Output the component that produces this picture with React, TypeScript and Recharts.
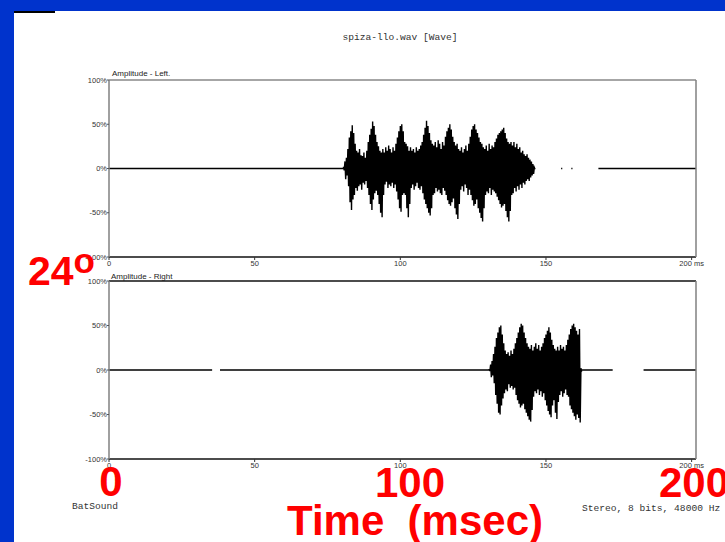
import React from 'react';
import { ComposedChart, Line, XAxis, YAxis, ReferenceLine } from 'recharts';

const timeTicks = [0, 50, 100, 150, 200];
const amplitudeTicks = [-100, -50, 0, 50, 100];
const binMs = 0.5;

// Left channel (top panel), envelope per 0.5 ms bin, in %
const leftBurstStart = 80.5;
const leftMax = [
  2, 8, 12, 22, 35, 42, 49, 40, 28, 20,
  18, 22, 15, 14, 18, 12, 20, 30, 38, 45,
  53, 48, 38, 30, 25, 20, 18, 22, 18, 24,
  20, 26, 22, 18, 24, 20, 28, 35, 42, 48,
  50, 42, 30, 28, 25, 20, 24, 20, 22, 18,
  24, 20, 22, 26, 30, 38, 46, 54, 48, 40,
  32, 28, 26, 30, 24, 32, 28, 22, 30, 26,
  36, 42, 46, 50, 44, 36, 30, 26, 28, 22,
  20, 24, 18, 22, 26, 20, 28, 36, 44, 48,
  50, 44, 40, 35, 30, 28, 24, 22, 26, 20,
  28, 22, 26, 24, 30, 34, 38, 40, 42, 44,
  46, 40, 34, 30, 28, 30, 26, 30, 24, 28,
  22, 24, 18, 20, 16, 14, 16, 12, 10, 8,
  5, 1,
];
const leftMin = [
  -2, -12, -8, -20, -38, -47, -35, -30, -22, -25,
  -20, -18, -24, -16, -18, -14, -22, -30, -40, -47,
  -35, -28, -25, -30, -40, -50, -55, -30, -18, -15,
  -22, -18, -20, -16, -22, -18, -26, -35, -45, -49,
  -30, -28, -30, -45, -55, -40, -22, -18, -24, -20,
  -16, -22, -24, -20, -28, -35, -40, -45, -50, -53,
  -45, -30, -28, -22, -26, -24, -28, -30, -22, -25,
  -30, -36, -40, -42, -38, -34, -45, -52, -57, -40,
  -24, -20, -26, -18, -22, -30, -24, -30, -36, -42,
  -40, -35, -45, -50, -56, -60, -45, -30, -26, -28,
  -22, -30, -24, -26, -28, -32, -36, -40, -44, -42,
  -40, -48, -55, -60, -48, -30, -28, -22, -26, -20,
  -24, -18, -22, -16, -18, -14, -12, -14, -10, -8,
  -6, -1,
];
const leftQuietBefore: number[][] = [[0, 80.5]];
const leftQuietAfter: number[][] = [[155.2, 155.6], [158.7, 159.1], [168, 201.5]];

// Right channel (bottom panel)
const rightBurstStart = 130.5;
const rightMax = [
  1, 6, 10, 18, 26, 36, 42, 48, 50, 40,
  30, 22, 18, 20, 16, 22, 18, 24, 30, 36,
  42, 48, 52, 50, 42, 36, 30, 26, 24, 28,
  22, 26, 30, 24, 28, 22, 26, 30, 36, 40,
  44, 48, 42, 34, 28, 24, 22, 26, 22, 28,
  24, 26, 22, 28, 34, 40, 46, 50, 52, 48,
  44, 40, 46, 2,
];
const rightMin = [
  -1, -8, -6, -15, -28, -38, -48, -50, -40, -32,
  -26, -22, -24, -16, -20, -18, -22, -20, -28, -34,
  -38, -42, -40, -38, -44, -48, -52, -56, -58, -45,
  -30, -24, -26, -22, -28, -24, -30, -26, -34, -40,
  -46, -50, -53, -40, -34, -48, -55, -36, -28, -24,
  -30, -26, -22, -28, -30, -40, -44, -48, -52, -56,
  -50, -54, -59, -2,
];
const rightQuietBefore: number[][] = [[0, 35.4], [38.1, 130.5]];
const rightQuietAfter: number[][] = [[162.0, 172.9], [183.5, 201.5]];

type Pt = { t: number; v: number | null };

function buildWave(before: number[][], start: number, maxs: number[], mins: number[], after: number[][]): Pt[] {
  const pts: Pt[] = [];
  const lastT = () => (pts.length ? (pts[pts.length - 1].t as number) : -1);
  const addSeg = (a: number, b: number) => {
    if (pts.length && a - lastT() > 0.6) pts.push({ t: (a + lastT()) / 2, v: null });
    pts.push({ t: a, v: 0 });
    pts.push({ t: b, v: 0 });
  };
  before.forEach(([a, b]) => addSeg(a, b));
  maxs.forEach((m, i) => {
    const t = start + i * binMs;
    pts.push({ t, v: m });
    pts.push({ t: t + binMs / 2, v: mins[i] });
  });
  after.forEach(([a, b]) => addSeg(a, b));
  return pts;
}

const sans = 'Liberation Sans, Arial, sans-serif';
const mono = 'Liberation Mono, Courier New, monospace';

const fmtTime = (v: number) => (v === 200 ? '200 ms' : String(v));
const fmtAmp = (v: number) => `${v}%`;

function Panel({ data, height, margin, topStroke }: { data: Pt[]; height: number; margin: any; topStroke: string }) {
  return (
    <ComposedChart width={725} height={height} data={data} margin={margin}>
      <XAxis
        dataKey="t"
        type="number"
        domain={[0, 201.5]}
        ticks={timeTicks}
        tickFormatter={fmtTime}
        interval={0}
        height={20}
        axisLine={{ stroke: '#111', strokeWidth: 1.5 }}
        tickLine={{ stroke: '#333' }}
        tickSize={3}
        tickMargin={1}
        tick={{ fontSize: 7.5, fill: '#333', fontFamily: sans }}
        allowDataOverflow
      />
      <YAxis
        yAxisId="left"
        type="number"
        domain={[-100, 100]}
        ticks={amplitudeTicks}
        tickFormatter={fmtAmp}
        interval={0}
        width={40}
        axisLine={{ stroke: '#808080', strokeWidth: 1.5 }}
        tickLine={{ stroke: '#555' }}
        tickSize={2}
        tickMargin={0}
        tick={{ fontSize: 7.5, fill: '#333', fontFamily: sans }}
      />
      <YAxis
        yAxisId="right"
        orientation="right"
        type="number"
        domain={[-100, 100]}
        ticks={amplitudeTicks}
        interval={0}
        width={10}
        axisLine={{ stroke: '#808080', strokeWidth: 1.5 }}
        tickLine={{ stroke: '#555' }}
        tick={false}
        tickSize={3}
        mirror
      />
      <ReferenceLine yAxisId="left" y={100} stroke={topStroke} strokeWidth={1.5} />
      <Line
        yAxisId="left"
        dataKey="v"
        type="linear"
        stroke="#000"
        strokeWidth={1.4}
        dot={false}
        activeDot={false}
        connectNulls={false}
        isAnimationActive={false}
      />
    </ComposedChart>
  );
}

export default function App() {
  const leftData = buildWave(leftQuietBefore, leftBurstStart, leftMax, leftMin, leftQuietAfter);
  const rightData = buildWave(rightQuietBefore, rightBurstStart, rightMax, rightMin, rightQuietAfter);
  return (
    <div style={{ position: 'absolute', left: 0, top: 0, width: 725, height: 542, background: '#0033cc', overflow: 'hidden' }}>
      <div style={{ position: 'absolute', left: 14, top: 11, width: 711, height: 531, background: '#fff' }} />
      <div style={{ position: 'absolute', left: 14, top: 11, width: 41, height: 2, background: '#000' }} />
      <div style={{ position: 'absolute', left: 0, top: 0 }}>
        <Panel data={leftData} height={300} margin={{ top: 80, right: 29, bottom: 23, left: 69 }} topStroke="#888" />
      </div>
      <div style={{ position: 'absolute', left: 0, top: 260 }}>
        <Panel data={rightData} height={240} margin={{ top: 21, right: 29, bottom: 21, left: 69 }} topStroke="#111" />
      </div>
      <svg width={725} height={542} style={{ position: 'absolute', left: 0, top: 0, pointerEvents: 'none' }}>
        <text x={400} y={40} textAnchor="middle" fontFamily={mono} fontSize={9.6} fill="#333">spiza-llo.wav [Wave]</text>
        <text x={112} y={76} fontFamily={sans} fontSize={8} fill="#222">Amplitude - Left.</text>
        <text x={111} y={279} fontFamily={sans} fontSize={8} fill="#222">Amplitude - Right</text>
        <text x={72} y={509} fontFamily={mono} fontSize={9.6} fill="#333">BatSound</text>
        <text x={582} y={511} fontFamily={mono} fontSize={9.6} fill="#333">Stereo, 8 bits, 48000 Hz</text>
        <g fill="#ff0000" fontFamily={sans} fontWeight="bold">
          <text x={28} y={285} fontSize={41}>
            24<tspan fontSize={35} dy={-12}>o</tspan>
          </text>
          <text x={111} y={496} fontSize={42} textAnchor="middle">0</text>
          <text x={410} y={497} fontSize={42} textAnchor="middle">100</text>
          <text x={659} y={497} fontSize={42}>200</text>
          <text x={287} y={535} fontSize={42} style={{ whiteSpace: 'pre' }}>{'Time  (msec)'}</text>
        </g>
      </svg>
    </div>
  );
}
